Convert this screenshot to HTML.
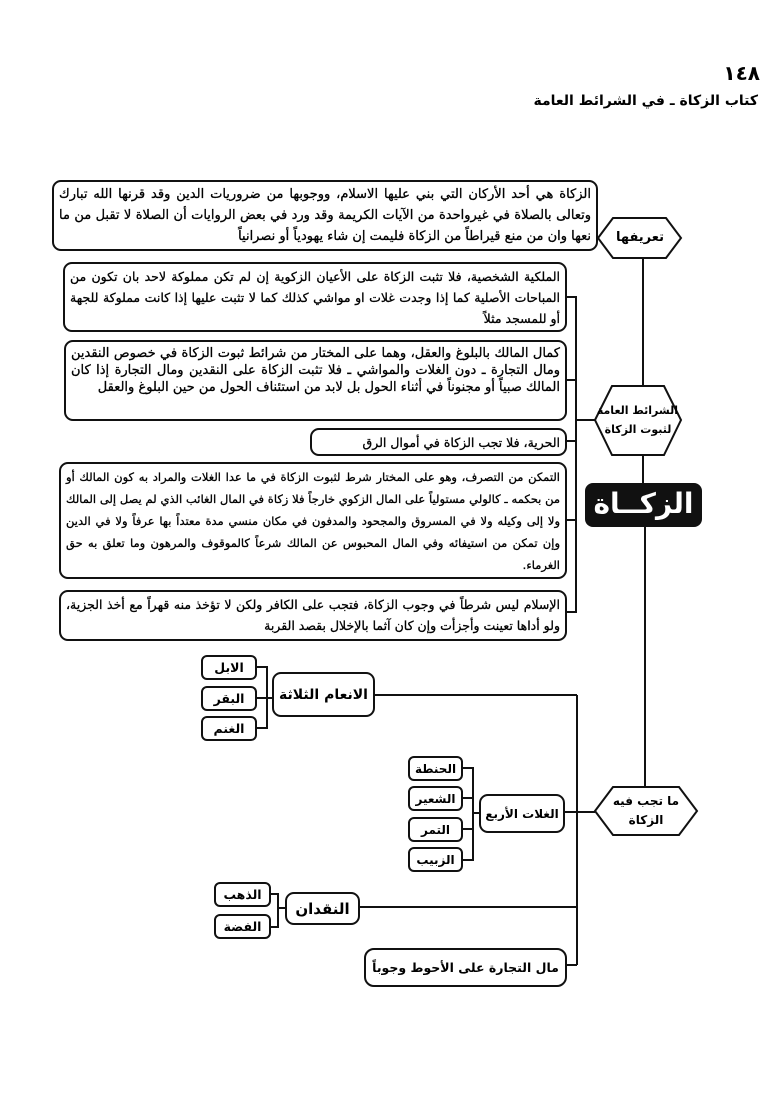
<!DOCTYPE html>
<html><head><meta charset="utf-8">
<style>
body{margin:0;background:#fff;}
#p{position:relative;width:780px;height:1120px;overflow:hidden;background:#fff;font-family:"DejaVu Sans",sans-serif;color:#000;}
.b{position:absolute;border:2px solid #111;border-radius:9px;box-sizing:border-box;background:#fff;direction:rtl;text-align:justify;text-align-last:right;font-size:12.5px;line-height:21px;padding:2px 5px;font-weight:normal;overflow:hidden;-webkit-text-stroke:0.3px #000;}
.s{position:absolute;border:2px solid #111;border-radius:6px;box-sizing:border-box;background:#fff;direction:rtl;text-align:center;font-size:12.5px;font-weight:bold;display:flex;align-items:center;justify-content:center;white-space:nowrap;}
.t{position:absolute;direction:rtl;text-align:center;font-weight:bold;font-size:12px;line-height:19px;white-space:nowrap;}
svg{position:absolute;left:0;top:0;}
</style></head><body><div id="p">
<svg width="780" height="1120">
<g stroke="#111" stroke-width="2" fill="#fff">
<line x1="643" y1="258" x2="643" y2="385"/>
<line x1="643" y1="455" x2="643" y2="483"/>
<line x1="645" y1="527" x2="645" y2="787"/>
<polyline fill="none" points="567,297 576,297 576,612 567,612"/>
<line x1="567" y1="380" x2="576" y2="380"/>
<line x1="567" y1="441" x2="576" y2="441"/>
<line x1="567" y1="520" x2="576" y2="520"/>
<line x1="576" y1="420" x2="595" y2="420"/>
<line x1="375" y1="695" x2="577" y2="695"/>
<line x1="577" y1="695" x2="577" y2="965"/>
<line x1="567" y1="965" x2="577" y2="965"/>
<line x1="360" y1="907" x2="577" y2="907"/>
<line x1="565" y1="812" x2="595" y2="812"/>
<polyline fill="none" points="257,667 267,667 267,728 257,728"/>
<line x1="257" y1="698" x2="272" y2="698"/>
<polyline fill="none" points="463,768 473,768 473,860 463,860"/>
<line x1="463" y1="798" x2="473" y2="798"/>
<line x1="463" y1="829" x2="473" y2="829"/>
<line x1="473" y1="813" x2="479" y2="813"/>
<polyline fill="none" points="271,894 278,894 278,927 271,927"/>
<line x1="278" y1="908" x2="285" y2="908"/>
<polygon points="598,238 613,218 666,218 681,238 666,258 613,258"/>
<polygon points="595,420 612,386 664,386 681,420 664,455 612,455"/>
<polygon points="595,811 613,787 679,787 697,811 679,835 613,835"/>
</g>
<rect x="585" y="483" width="117" height="44" rx="8" fill="#111"/>
</svg>
<div class="t" style="left:700px;top:64px;width:60px;font-size:20px;text-align:right">١٤٨</div>
<div class="t" style="left:480px;top:92px;width:278px;font-size:14px;text-align:right;font-weight:900">كتاب الزكاة ـ في الشرائط العامة</div>
<div class="t" style="left:600px;top:228px;width:80px;font-size:13px">تعريفها</div>
<div class="t" style="left:598px;top:401px;width:80px;font-size:11px">الشرائط العامة<br>لثبوت الزكاة</div>
<div class="t" style="left:585px;top:486px;width:117px;font-size:28px;line-height:36px;color:#fff">الزكــاة</div>
<div class="t" style="left:600px;top:792px;width:92px;font-size:12px">ما تجب فيه<br>الزكاة</div>

<div class="b" style="left:52px;top:180px;width:546px;height:71px;font-size:13px">الزكاة هي أحد الأركان التي بني عليها الاسلام، ووجوبها من ضروريات الدين وقد قرنها الله تبارك وتعالى بالصلاة في غيرواحدة من الآيات الكريمة وقد ورد في بعض الروايات أن الصلاة لا تقبل من ما نعها وان من منع قيراطاً من الزكاة فليمت إن شاء يهودياً أو نصرانياً</div>
<div class="b" style="left:63px;top:262px;width:504px;height:70px">الملكية الشخصية، فلا تثبت الزكاة على الأعيان الزكوية إن لم تكن مملوكة لاحد بان تكون من المباحات الأصلية كما إذا وجدت غلات او مواشي كذلك كما لا تثبت عليها إذا كانت مملوكة للجهة أو للمسجد مثلاً</div>
<div class="b" style="left:64px;top:340px;width:503px;height:81px;line-height:17px;padding-top:3px;font-size:13px">كمال المالك بالبلوغ والعقل، وهما على المختار من شرائط ثبوت الزكاة في خصوص النقدين ومال التجارة ـ دون الغلات والمواشي ـ فلا تثبت الزكاة على النقدين ومال التجارة إذا كان المالك صبياً أو مجنوناً في أثناء الحول بل لابد من استئناف الحول من حين البلوغ والعقل</div>
<div class="b" style="left:310px;top:428px;width:257px;height:28px;line-height:22px">الحرية، فلا تجب الزكاة في أموال الرق</div>
<div class="b" style="left:59px;top:462px;width:508px;height:117px;line-height:22px;font-size:11.5px">التمكن من التصرف، وهو على المختار شرط لثبوت الزكاة في ما عدا الغلات والمراد به كون المالك أو من بحكمه ـ كالولي مستولياً على المال الزكوي خارجاً فلا زكاة في المال الغائب الذي لم يصل إلى المالك ولا إلى وكيله ولا في المسروق والمجحود والمدفون في مكان منسي مدة معتداً بها عرفاً ولا في الدين وإن تمكن من استيفائه وفي المال المحبوس عن المالك شرعاً كالموقوف والمرهون وما تعلق به حق الغرماء.</div>
<div class="b" style="left:59px;top:590px;width:508px;height:51px">الإسلام ليس شرطاً في وجوب الزكاة، فتجب على الكافر ولكن لا تؤخذ منه قهراً مع أخذ الجزية، ولو أداها تعينت وأجزأت وإن كان آثما بالإخلال بقصد القربة</div>

<div class="s" style="left:272px;top:672px;width:103px;height:45px;font-size:14px;border-radius:9px">الانعام الثلاثة</div>
<div class="s" style="left:201px;top:655px;width:56px;height:25px">الابل</div>
<div class="s" style="left:201px;top:686px;width:56px;height:25px">البقر</div>
<div class="s" style="left:201px;top:716px;width:56px;height:25px">الغنم</div>
<div class="s" style="left:479px;top:794px;width:86px;height:39px;border-radius:9px;font-size:12px">الغلات الأربع</div>
<div class="s" style="left:408px;top:756px;width:55px;height:25px;font-size:12px">الحنطة</div>
<div class="s" style="left:408px;top:786px;width:55px;height:25px;font-size:12px">الشعير</div>
<div class="s" style="left:408px;top:817px;width:55px;height:25px;font-size:12px">التمر</div>
<div class="s" style="left:408px;top:847px;width:55px;height:25px;font-size:12px">الزبيب</div>
<div class="s" style="left:285px;top:892px;width:75px;height:33px;font-size:15px;border-radius:9px">النقدان</div>
<div class="s" style="left:214px;top:882px;width:57px;height:25px">الذهب</div>
<div class="s" style="left:214px;top:914px;width:57px;height:25px">الفضة</div>
<div class="s" style="left:364px;top:948px;width:203px;height:39px;border-radius:10px">مال التجارة على الأحوط وجوباً</div>
</div></body></html>
